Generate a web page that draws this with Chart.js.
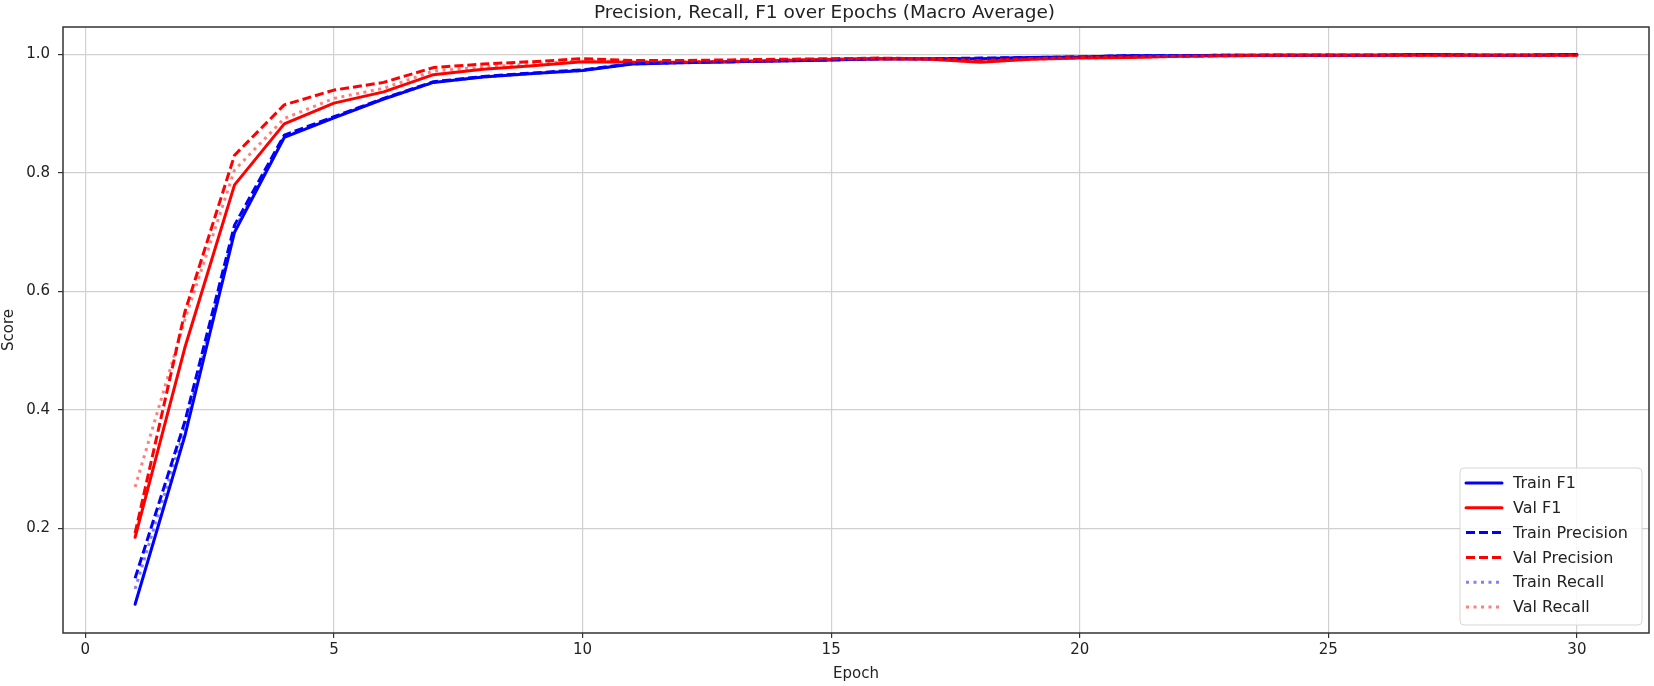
<!DOCTYPE html>
<html>
<head>
<meta charset="utf-8">
<title>Precision, Recall, F1 over Epochs</title>
<script src="https://cdn.jsdelivr.net/npm/chart.js@4.4.1/dist/chart.umd.min.js"></script>
<style>
    html, body { margin: 0; padding: 0; background: #fff; }
    #wrap { width: 1654px; height: 686px; }
</style>
</head>
<body>
<div id="wrap"><canvas id="metricsChart" width="1654" height="686"></canvas></div>
<script>
// values
const epochs = [1, 2, 3, 4, 5, 6, 7, 8, 9, 10, 11, 12, 13, 14, 15, 16, 17, 18, 19, 20, 21, 22, 23, 24, 25, 26, 27, 28, 29, 30];

const trainF1 = [0.072, 0.356, 0.700, 0.860, 0.893, 0.925, 0.953, 0.962, 0.968, 0.973, 0.984, 0.986, 0.988, 0.989, 0.991, 0.993, 0.993, 0.993, 0.995, 0.996, 0.998, 0.998, 0.999, 0.999, 0.999, 0.999, 1.000, 0.999, 0.999, 1.000];
const valF1 = [0.185, 0.505, 0.780, 0.883, 0.918, 0.937, 0.966, 0.975, 0.981, 0.988, 0.987, 0.987, 0.988, 0.990, 0.992, 0.993, 0.992, 0.987, 0.992, 0.994, 0.995, 0.997, 0.998, 0.999, 0.999, 0.999, 0.999, 0.999, 0.999, 0.999];
const trainPrecision = [0.116, 0.380, 0.712, 0.864, 0.895, 0.926, 0.954, 0.963, 0.969, 0.974, 0.985, 0.987, 0.988, 0.990, 0.991, 0.993, 0.993, 0.994, 0.995, 0.996, 0.998, 0.998, 0.999, 0.999, 0.999, 0.999, 1.000, 0.999, 0.999, 1.000];
const valPrecision = [0.192, 0.565, 0.830, 0.915, 0.940, 0.953, 0.978, 0.984, 0.988, 0.993, 0.990, 0.990, 0.991, 0.992, 0.993, 0.994, 0.993, 0.990, 0.993, 0.995, 0.996, 0.997, 0.998, 0.999, 0.999, 0.999, 0.999, 0.999, 0.999, 0.999];
const trainRecall = [0.098, 0.368, 0.705, 0.861, 0.894, 0.925, 0.953, 0.962, 0.968, 0.973, 0.984, 0.986, 0.988, 0.989, 0.991, 0.993, 0.993, 0.993, 0.995, 0.996, 0.998, 0.998, 0.999, 0.999, 0.999, 0.999, 1.000, 0.999, 0.999, 1.000];
const valRecall = [0.270, 0.552, 0.805, 0.892, 0.926, 0.943, 0.972, 0.979, 0.984, 0.990, 0.988, 0.988, 0.989, 0.991, 0.992, 0.993, 0.992, 0.988, 0.992, 0.994, 0.995, 0.997, 0.998, 0.999, 0.999, 0.999, 0.999, 0.999, 0.999, 0.999];

const xTicks = [0, 5, 10, 15, 20, 25, 30];
const yTicks = [0.2, 0.4, 0.6, 0.8, 1.0];

const FONT = "'DejaVu Sans', sans-serif";
const TEXT = '#222';

// turn a series into {x, y} points against the epoch list
function toPoints(values) {
    return values.map((v, i) => ({ x: epochs[i], y: v }));
}

function makeDataset(label, values, color, dash, order) {
    return {
        label: label,
        data: toPoints(values),
        borderColor: color,
        borderWidth: 3,
        borderDash: dash,
        borderCapStyle: dash.length ? 'butt' : 'round',
        borderJoinStyle: 'round',
        pointRadius: 0,
        fill: false,
        tension: 0,
        order: order
    };
}

// frame round the plot (matplotlib draws all four spines)
const framePlugin = {
    id: 'frame',
    afterDatasetsDraw(chart) {
        const { ctx, chartArea } = chart;
        ctx.save();
        ctx.strokeStyle = '#333';
        ctx.lineWidth = 1.5;
        ctx.strokeRect(chartArea.left, chartArea.top, chartArea.right - chartArea.left, chartArea.bottom - chartArea.top);
        ctx.restore();
    }
};

// legend in the lower right corner, inside the axes
const cornerLegend = {
    id: 'cornerLegend',
    afterDraw(chart) {
        const { ctx, chartArea } = chart;
        const sets = chart.data.datasets;
        const rowH = 24.8;
        const boxW = 182;
        const boxH = 157;
        const x0 = chartArea.right - 7 - boxW;
        const y0 = chartArea.bottom - 8 - boxH;

        ctx.save();
        ctx.beginPath();
        ctx.roundRect(x0, y0, boxW, boxH, 4);
        ctx.fillStyle = 'rgba(255,255,255,0.85)';
        ctx.fill();
        ctx.strokeStyle = '#d6d6d6';
        ctx.lineWidth = 1;
        ctx.stroke();

        ctx.font = '16px ' + FONT;
        ctx.textBaseline = 'middle';
        ctx.textAlign = 'left';
        sets.forEach((ds, i) => {
            const cy = y0 + 15 + i * rowH;
            ctx.beginPath();
            ctx.strokeStyle = ds.borderColor;
            ctx.lineWidth = ds.borderWidth;
            ctx.setLineDash(ds.borderDash);
            ctx.lineCap = ds.borderDash.length ? 'butt' : 'round';
            ctx.moveTo(x0 + 6, cy);
            ctx.lineTo(x0 + 42, cy);
            ctx.stroke();
            ctx.setLineDash([]);
            ctx.fillStyle = TEXT;
            ctx.fillText(ds.label, x0 + 53, cy + 1);
        });
        ctx.restore();
    }
};

const ctx = document.getElementById('metricsChart').getContext('2d');
const metricsChart = new Chart(ctx, {
    type: 'line',
    data: {
        datasets: [
            makeDataset('Train F1', trainF1, '#0000ff', [], 6),
            makeDataset('Val F1', valF1, '#ff0000', [], 5),
            makeDataset('Train Precision', trainPrecision, '#0000ff', [9, 4], 4),
            makeDataset('Val Precision', valPrecision, '#ff0000', [9, 4], 3),
            makeDataset('Train Recall', trainRecall, 'rgba(0,0,255,0.5)', [3, 4.5], 2),
            makeDataset('Val Recall', valRecall, 'rgba(255,0,0,0.5)', [3, 4.5], 1)
        ]
    },
    options: {
        responsive: false,
        animation: false,
        layout: { padding: { left: 0, right: 5, top: 0, bottom: 0 } },
        plugins: {
            legend: { display: false },
            tooltip: { enabled: false },
            title: {
                display: true,
                text: 'Precision, Recall, F1 over Epochs (Macro Average)',
                color: TEXT,
                font: { family: FONT, size: 18.5, weight: 'normal', lineHeight: 1.2 },
                padding: { top: 2, bottom: 2.8 }
            }
        },
        scales: {
            x: {
                type: 'linear',
                min: -0.45,
                max: 31.45,
                afterBuildTicks(scale) {
                    scale.ticks = xTicks.map(v => ({ value: v }));
                },
                afterFit(scale) {
                    scale.height = 53;
                },
                ticks: {
                    color: TEXT,
                    font: { family: FONT, size: 15 },
                    padding: 3,
                    maxRotation: 0,
                    callback: v => String(v)
                },
                grid: {
                    color: '#d0d0d0',
                    lineWidth: 1.2,
                    tickColor: '#333',
                    tickLength: 5
                },
                border: { display: false },
                title: {
                    display: true,
                    text: 'Epoch',
                    color: TEXT,
                    font: { family: FONT, size: 15 },
                    padding: { top: 0, bottom: 3 }
                }
            },
            y: {
                type: 'linear',
                min: 0.0235,
                max: 1.0465,
                afterBuildTicks(scale) {
                    scale.ticks = yTicks.map(v => ({ value: v }));
                },
                afterFit(scale) {
                    scale.width = 63;
                },
                ticks: {
                    color: TEXT,
                    font: { family: FONT, size: 15 },
                    padding: 8,
                    callback: v => Number(v).toFixed(1)
                },
                grid: {
                    color: '#d0d0d0',
                    lineWidth: 1.2,
                    tickColor: '#333',
                    tickLength: 5
                },
                border: { display: false },
                title: {
                    display: true,
                    text: 'Score',
                    color: TEXT,
                    font: { family: FONT, size: 15 },
                    padding: { top: 0, bottom: 0 }
                }
            }
        }
    },
    plugins: [framePlugin, cornerLegend]
});
</script>
</body>
</html>
